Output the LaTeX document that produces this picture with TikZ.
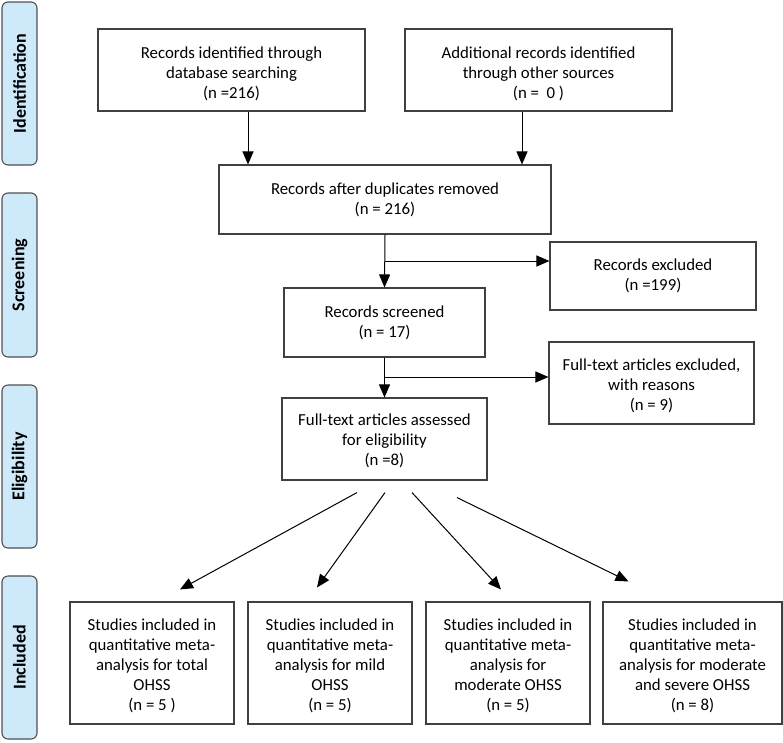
\documentclass[tikz,border=0pt]{standalone}
\usepackage{fontspec}
\setmainfont{Carlito}
\usetikzlibrary{arrows.meta}
\definecolor{sidefill}{HTML}{CDE9FA}
\definecolor{sidedraw}{HTML}{505050}
\definecolor{boxdraw}{HTML}{404040}
\tikzset{
  box/.style={draw=boxdraw, line width=1.1pt, align=center, font=\fontsize{16.8}{20}\selectfont, inner sep=2pt},
  boxtext/.style={align=center, font=\fontsize{16.8}{20}\selectfont, inner sep=0pt},
  side/.style={draw=sidedraw, fill=sidefill, line width=1.1pt, rounded corners=6pt, minimum width=35pt},
  sidetext/.style={rotate=90, font=\fontsize{18}{20}\selectfont\bfseries},
  arr/.style={draw=black, line width=1pt, -{Triangle[length=13pt,width=11pt]}},
}
\begin{document}
\begin{tikzpicture}[x=1pt,y=-1pt]
\useasboundingbox (0,0) rectangle (783,742);
% side labels
\node[side, minimum height=163pt] (sid) at (19.5,83.5) {};
\node[sidetext] at (sid.center) {Identification};
\node[side, minimum height=164pt] (ssc) at (19.5,275) {};
\node[sidetext] at (ssc.center) {Screening};
\node[side, minimum height=163pt] (sel) at (19.5,466.5) {};
\node[sidetext] at (sel.center) {Eligibility};
\node[side, minimum height=163pt] (sin) at (19.5,657.5) {};
\node[sidetext] at (sin.center) {Included};
% boxes
\node[box, minimum width=267pt, minimum height=82pt] (b1) at (231.5,70) {};
\node[boxtext] at ([yshift=-3.5pt]b1.center) {Records identified through\\database searching\\(n =216)};
\node[box, minimum width=267pt, minimum height=82pt] (b2) at (538.5,70) {};
\node[boxtext] at ([yshift=-3.5pt]b2.center) {Additional records identified\\through other sources\\(n =~ 0 )};
\node[box, minimum width=332pt, minimum height=69pt] (b3) at (385,199.5) {Records after duplicates removed\\(n = 216)};
\node[box, minimum width=206pt, minimum height=68pt] (b5) at (653,276) {Records excluded\\(n =199)};
\node[box, minimum width=201pt, minimum height=69pt] (b4) at (384.5,322.5) {Records screened\\(n = 17)};
\node[box, minimum width=205pt, minimum height=82pt] (b7) at (651.5,383) {};
\node[boxtext] at ([yshift=-2.5pt]b7.center) {Full-text articles excluded,\\with reasons\\(n = 9)};
\node[box, minimum width=205pt, minimum height=82pt] (b6) at (384.5,439) {};
\node[boxtext] at ([yshift=-2pt]b6.center) {Full-text articles assessed\\for eligibility\\(n =8)};
\node[box, minimum width=164pt, minimum height=122pt] (i1) at (152,663) {};
\node[boxtext] at ([yshift=-3pt]i1.center) {Studies included in\\quantitative meta-\\analysis for total\\OHSS\\(n = 5 )};
\node[box, minimum width=164pt, minimum height=122pt] (i2) at (330,663) {};
\node[boxtext] at ([yshift=-3pt]i2.center) {Studies included in\\quantitative meta-\\analysis for mild\\OHSS\\(n = 5)};
\node[box, minimum width=164pt, minimum height=122pt] (i3) at (508,663) {};
\node[boxtext] at ([yshift=-3pt]i3.center) {Studies included in\\quantitative meta-\\analysis for\\moderate OHSS\\(n = 5)};
\node[box, minimum width=179pt, minimum height=122pt] (i4) at (692.5,663) {};
\node[boxtext] at ([yshift=-3pt]i4.center) {Studies included in\\quantitative meta-\\analysis for moderate\\and severe OHSS\\(n = 8)};
% connectors
\draw[arr] ([xshift=16.5pt]b1.south) -- ([xshift=16.5pt]b1.south |- b3.north);
\draw[arr] ([xshift=-16.5pt]b2.south) -- ([xshift=-16.5pt]b2.south |- b3.north);
\draw[arr] (b3.south) -- (b4.north);
\coordinate (j1) at (385,261);
\draw[arr] (j1) -- (j1 -| b5.west);
\draw[arr] (b4.south) -- (b6.north);
\coordinate (j2) at (385,377);
\draw[arr] (j2) -- (j2 -| b7.west);
\draw[arr] ([shift={(-27.5,12)}]b6.south) -- ([shift={(28,-12)}]i1.north);
\draw[arr] ([shift={(0.5,12)}]b6.south) -- ([shift={(-13,-14)}]i2.north);
\draw[arr] ([shift={(27.5,12)}]b6.south) -- ([shift={(-7,-12)}]i3.north);
\draw[arr] ([shift={(72.5,17)}]b6.south) -- ([shift={(-64,-20)}]i4.north);
\end{tikzpicture}
\end{document}
